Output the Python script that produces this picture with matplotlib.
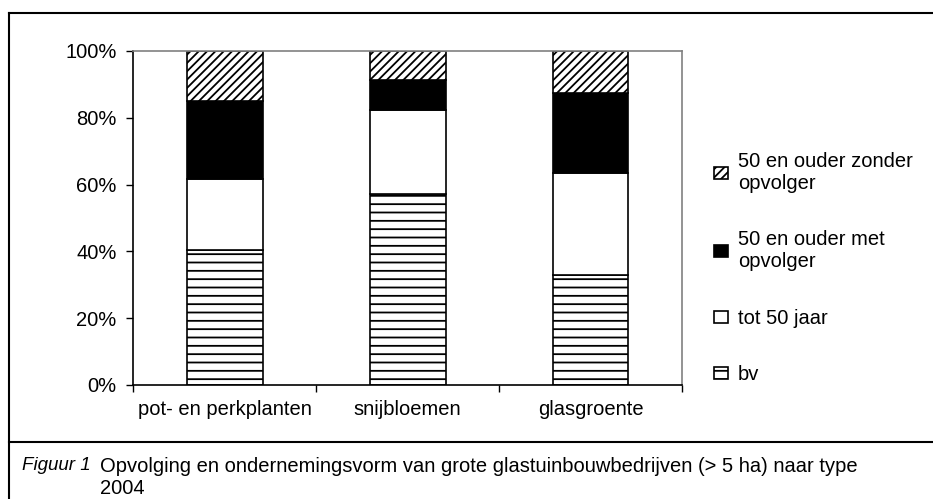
import numpy as np
import matplotlib
matplotlib.use('Agg')
import matplotlib.pyplot as plt
from matplotlib.lines import Line2D

plt.rcParams['font.family'] = ['Liberation Sans', 'DejaVu Sans']
plt.rcParams['hatch.linewidth'] = 1.3

categories = ['pot- en perkplanten', 'snijbloemen', 'glasgroente']
series = ['bv', 'tot 50 jaar', '50 en ouder met\nopvolger', '50 en ouder zonder\nopvolger']
bv = [40.4, 57.2, 32.8]
tot50 = [21.2, 25.1, 30.6]
met_opvolger = [23.5, 9.0, 24.1]
zonder_opvolger = [14.9, 8.7, 12.5]
yticks = [0, 20, 40, 60, 80, 100]

fs = 14.5

fig = plt.figure(figsize=(9.33, 4.99), dpi=100)
ax = fig.add_axes([0.1426, 0.2285, 0.5884, 0.6693])

x = np.arange(len(categories))
w = 0.415
styles = [
    dict(facecolor='white', hatch='--'),
    dict(facecolor='white', hatch=None),
    dict(facecolor='black', hatch=None),
    dict(facecolor='white', hatch='////'),
]
bottom = np.zeros(3)
handles = []
for vals, st, name in zip([bv, tot50, met_opvolger, zonder_opvolger], styles, series):
    b = ax.bar(x, vals, w, bottom=bottom, edgecolor='black', linewidth=1.2,
               label=name, **st)
    bottom += np.array(vals)
    handles.append(b)

ax.set_xlim(-0.5, 2.5)
ax.set_ylim(0, 100)
ax.set_yticks(yticks)
ax.set_yticklabels(['%d%%' % v for v in yticks], fontsize=fs)
ax.set_xticks(x)
ax.set_xticklabels(categories, fontsize=fs)
ax.set_xticks([-0.5, 0.5, 1.5, 2.5], minor=True)
ax.tick_params(axis='x', which='major', length=0, pad=11)
ax.tick_params(axis='x', which='minor', length=5, width=1, direction='out')
ax.tick_params(axis='y', length=5, width=1, pad=7)

for s in ['top', 'right']:
    ax.spines[s].set_color('#808080')
    ax.spines[s].set_linewidth(1.2)
for s in ['left', 'bottom']:
    ax.spines[s].set_color('black')
    ax.spines[s].set_linewidth(1.2)

leg = ax.legend(handles[::-1], series[::-1], loc='center left',
                bbox_to_anchor=(1.025, 0.35), frameon=False, fontsize=fs,
                handlelength=0.7, handleheight=0.55, handletextpad=0.5,
                labelspacing=1.85)

# outer frame and caption
fig.add_artist(Line2D([9 / 933, 9 / 933], [0, 1 - 13 / 499], color='black', lw=1.5))
fig.add_artist(Line2D([9 / 933, 1], [1 - 13 / 499, 1 - 13 / 499], color='black', lw=1.5))
fig.add_artist(Line2D([9 / 933, 1], [1 - 442 / 499, 1 - 442 / 499], color='black', lw=1.5))
fig.text(22 / 933, 1 - 466 / 499, 'Figuur 1', fontsize=13.5, style='italic', va='center')
fig.text(100 / 933, 1 - 466 / 499, 'Opvolging en ondernemingsvorm van grote glastuinbouwbedrijven (> 5 ha) naar type',
         fontsize=fs, va='center')
fig.text(100 / 933, 1 - 489 / 499, '2004', fontsize=fs, va='center')

fig.savefig('out.png', dpi=100)
